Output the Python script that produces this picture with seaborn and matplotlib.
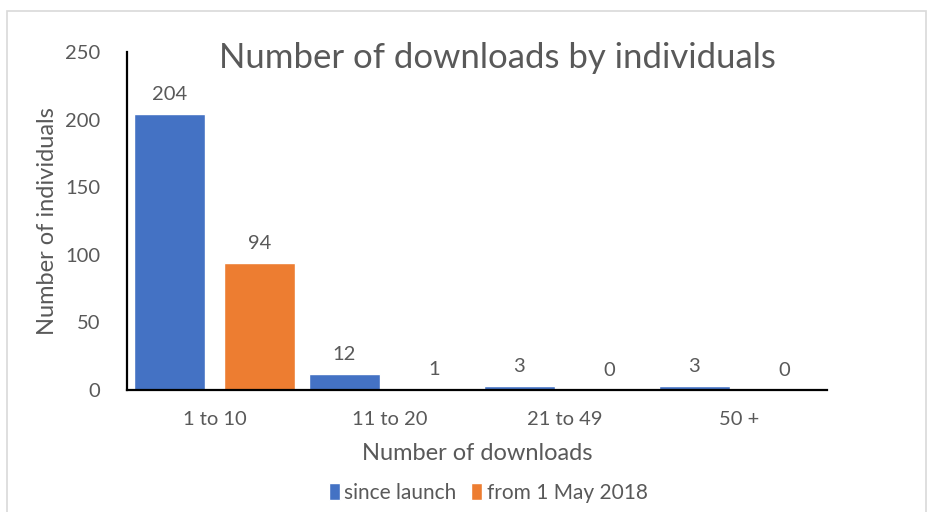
import matplotlib
matplotlib.use("Agg")
import matplotlib.pyplot as plt
import seaborn as sns
import pandas as pd
from matplotlib.patches import Rectangle, Patch

categories = ["1 to 10", "11 to 20", "21 to 49", "50 +"]
since_launch = [204, 12, 3, 3]
from_may_2018 = [94, 1, 0, 0]
series_names = ["since launch", "from 1 May 2018"]
colors = ["#4472C4", "#ED7D31"]

df = pd.DataFrame({
    "bin": categories * 2,
    "count": since_launch + from_may_2018,
    "series": [series_names[0]] * len(categories) + [series_names[1]] * len(categories),
})

sns.set_theme(style="white")
plt.rcParams["font.family"] = ["Lato", "DejaVu Sans"]
txt = "#595959"

fig = plt.figure(figsize=(9.34, 5.12), dpi=100)
ax = fig.add_axes([127 / 934, 1 - 390 / 512, 700 / 934, (390 - 52) / 512])

sns.barplot(data=df, x="bin", y="count", hue="series", palette=colors,
            width=1.029, gap=0.211, ax=ax, legend=False, saturation=1)

for cont in ax.containers:
    ax.bar_label(cont, padding=8, fontsize=14.5, color=txt)

ax.set_xlim(-0.5, 3.5)
ax.set_ylim(0, 250)
ax.set_yticks([0, 50, 100, 150, 200, 250])
ax.tick_params(axis="both", length=0, labelsize=14.5, labelcolor=txt)
ax.tick_params(axis="x", pad=15)
ax.tick_params(axis="y", pad=19)
for s in ["top", "right"]:
    ax.spines[s].set_visible(False)
for s in ["left", "bottom"]:
    ax.spines[s].set_color("black")
    ax.spines[s].set_linewidth(1.6)

ax.set_xlabel("Number of downloads", fontsize=17, color=txt, labelpad=11)
ax.set_ylabel("Number of individuals", fontsize=17, color=txt, labelpad=5)
fig.text(497 / 934, 1 - 58 / 512, "Number of downloads by individuals",
         ha="center", va="center", fontsize=25, color=txt)

handles = [Patch(facecolor=c, label=n) for c, n in zip(colors, series_names)]
fig.legend(handles=handles, loc="center", bbox_to_anchor=(488 / 934, 1 - 493 / 512),
           ncol=2, frameon=False, fontsize=15, handlelength=0.55, handleheight=0.9,
           handletextpad=0.2, columnspacing=0.7, labelcolor=txt)

fig.patches.append(Rectangle((7 / 934, -0.05), (926 - 7) / 934, 1.05 - 11 / 512,
                             transform=fig.transFigure, fill=False,
                             edgecolor="#D9D9D9", linewidth=1.2))

fig.savefig("out.png", dpi=100)
